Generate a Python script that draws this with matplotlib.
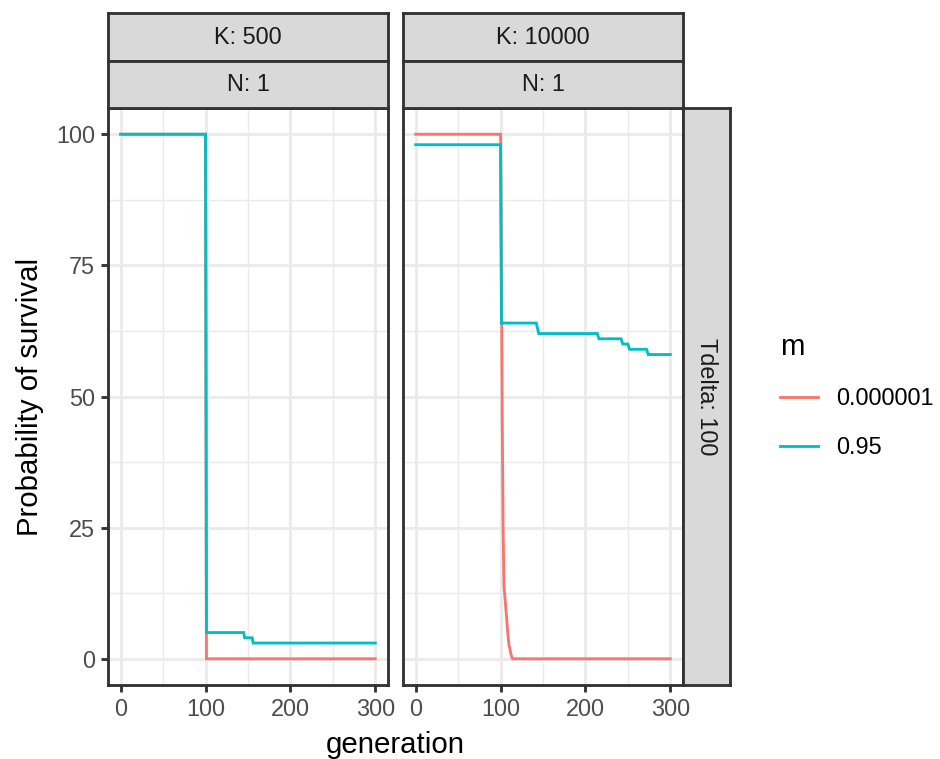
import matplotlib.pyplot as plt
from matplotlib.lines import Line2D

plt.rcParams['font.family'] = ['Liberation Sans', 'DejaVu Sans']

# Breakpoints of each survival curve (generation, % survival)
k500_low_gen = [0, 100, 101, 300]
k500_low_val = [100, 100, 0, 0]
k500_high_gen = [0, 100, 101, 145, 146, 155, 156, 300]
k500_high_val = [100, 100, 5, 5, 4, 4, 3, 3]

k10000_low_gen = [0, 100, 101, 102, 103, 104, 105, 106, 107, 108, 109, 110, 111, 112, 113, 114, 300]
k10000_low_val = [100, 100, 75, 45, 25, 14, 12, 10, 8, 6, 4, 2.5, 2, 1, 0.5, 0, 0]
k10000_high_gen = [0, 100, 101, 142, 145, 214, 216, 242, 244, 250, 252, 272, 274, 300]
k10000_high_val = [98, 98, 64, 64, 62, 62, 61, 61, 60, 60, 59, 59, 58, 58]

col_labels = ['K: 500', 'K: 10000']
row_label = 'N: 1'
side_label = 'Tdelta: 100'
legend_title = 'm'
legend_labels = ['0.000001', '0.95']
colors = ['#F8766D', '#00BFC4']

x_ticks = [0, 100, 200, 300]
y_ticks = [0, 25, 50, 75, 100]

W, H = 940, 759
DPI = 192
fig = plt.figure(figsize=(W / DPI, H / DPI), dpi=DPI)

lw = 1.07
border = '#333333'


def box(x0, y0, x1, y1):
    return [x0 / W, 1 - y1 / H, (x1 - x0) / W, (y1 - y0) / H]


def strip(rect, text, rotation=0):
    s = fig.add_axes(box(*rect))
    s.set_facecolor('#D9D9D9')
    s.set_xticks([])
    s.set_yticks([])
    for sp in s.spines.values():
        sp.set_color(border)
        sp.set_linewidth(lw)
    s.text(0.5, 0.5, text, transform=s.transAxes, ha='center', va='center',
           fontsize=8.8, color='#1A1A1A', rotation=rotation)


panels = [(108, 388), (403, 683)]
data = [
    [(k500_low_gen, k500_low_val), (k500_high_gen, k500_high_val)],
    [(k10000_low_gen, k10000_low_val), (k10000_high_gen, k10000_high_val)],
]

for i, (x0, x1) in enumerate(panels):
    ax = fig.add_axes(box(x0, 108, x1, 685))
    ax.set_xlim(-15, 315)
    ax.set_ylim(-5, 105)
    ax.set_xticks(x_ticks)
    ax.set_xticks([50, 150, 250], minor=True)
    ax.set_yticks(y_ticks)
    ax.set_yticks([12.5, 37.5, 62.5, 87.5], minor=True)
    ax.grid(True, which='major', color='#EBEBEB', linewidth=lw)
    ax.grid(True, which='minor', color='#EBEBEB', linewidth=lw / 2)
    ax.set_axisbelow(True)
    for (g, v), c in zip(data[i], colors):
        ax.plot(g, v, color=c, linewidth=lw, solid_joinstyle='miter')
    for sp in ax.spines.values():
        sp.set_color(border)
        sp.set_linewidth(lw)
        sp.set_zorder(5)
    ax.tick_params(which='major', length=2.75, width=lw, color=border,
                   labelsize=8.8, labelcolor='#4D4D4D', pad=2.2)
    ax.tick_params(which='minor', length=0)
    if i > 0:
        ax.tick_params(axis='y', labelleft=False, length=0)
    strip((x0, 13, x1, 61), col_labels[i])
    strip((x0, 61, x1, 108), row_label)

strip((683, 108, 730, 685), side_label, rotation=-90)

fig.text(395 / W, 1 - 745 / H, 'generation', ha='center', va='center', fontsize=11)
fig.text(30 / W, 1 - 397 / H, 'Probability of survival', ha='center', va='center',
         fontsize=11, rotation=90)

handles = [Line2D([], [], color=c, linewidth=lw) for c in colors]
fig.legend(handles, legend_labels, title=legend_title, loc='upper left',
           bbox_to_anchor=(759 / W, 1 - 312 / H), frameon=False,
           fontsize=8.8, title_fontsize=11, handlelength=1.62, handletextpad=0.77,
           labelspacing=1.1, alignment='left')

fig.savefig('out.png', dpi=DPI)
